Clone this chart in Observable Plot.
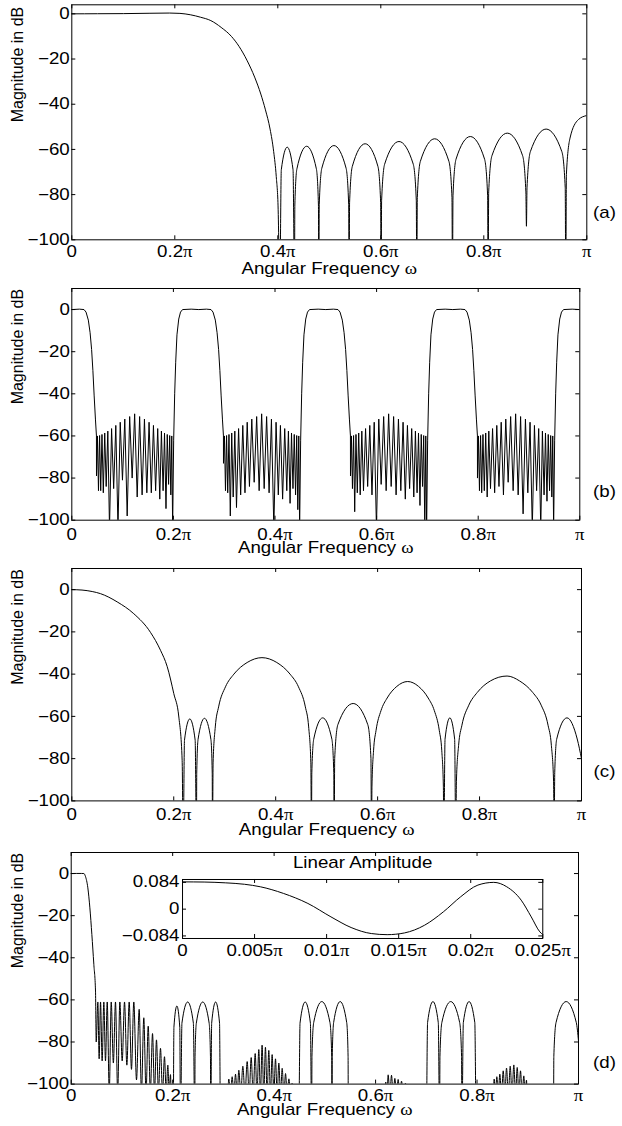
<!DOCTYPE html>
<html><head><meta charset="utf-8">
<script src="https://cdn.jsdelivr.net/npm/d3@7"></script>
<script src="https://cdn.jsdelivr.net/npm/@observablehq/plot@0.6"></script>
<style>
body{margin:0;background:#fff;}
#wrap{position:relative;width:622px;height:1126px;overflow:hidden;background:#fff;}
#wrap svg{position:absolute;}
</style></head><body><div id="wrap"></div>
<script>
// ---------- tick values and texts ----------
const xTicks = [0, 0.2, 0.4, 0.6, 0.8, 1];          // in units of pi
const yTicks = [-100, -80, -60, -40, -20, 0];       // dB
const insetXTicks = [0, 0.005, 0.01, 0.015, 0.02, 0.025];
const insetYTicks = [-0.084, 0, 0.084];
const panelTags = ["(a)", "(b)", "(c)", "(d)"];
const xLabel = "Angular Frequency ω";
const yLabel = "Magnitude in dB";
const insetTitle = "Linear Amplitude";

// ---------- panel (a): [omega/pi, dB] ----------
const aPassband = [[0,0],[0.05,0.05],[0.1,0.1],[0.15,0.25],[0.19,0.35],[0.21,0.2],[0.23,-0.4],[0.25,-1.5],[0.27,-3],[0.29,-6],[0.31,-10],[0.325,-14.5],[0.34,-20.5],[0.355,-28],[0.367,-35.5],[0.376,-42.5],[0.385,-51],[0.392,-61],[0.397,-72],[0.4005,-85],[0.4039,-120]];
const aStopband = [
[0.4068,-69],[0.4182,-59],[0.4296,-69],[0.4324,-120],
[0.4331,-84.6],[0.4371,-68.6],[0.4560,-58.6],[0.4749,-68.6],[0.4789,-84.6],[0.4796,-120],
[0.4805,-84.3],[0.4855,-68.3],[0.5090,-58.3],[0.5326,-68.3],[0.5376,-84.3],[0.5385,-120],
[0.5394,-83.5],[0.5447,-67.5],[0.5696,-57.5],[0.5944,-67.5],[0.5997,-83.5],[0.6006,-120],
[0.6016,-82.5],[0.6075,-66.5],[0.6353,-56.5],[0.6630,-66.5],[0.6689,-82.5],[0.6699,-120],
[0.6709,-81.3],[0.6768,-65.3],[0.7046,-55.3],[0.7323,-65.3],[0.7382,-81.3],[0.7392,-120],
[0.7402,-80.3],[0.7461,-64.3],[0.7738,-54.3],[0.8015,-64.3],[0.8074,-80.3],[0.8084,-120],
[0.8095,-78.8],[0.8158,-62.8],[0.8456,-52.8],[0.8754,-62.8],[0.8817,-78.8],[0.8828,-94],
[0.8839,-77],[0.8904,-61],[0.9210,-51],[0.9516,-61],[0.9581,-77],[0.9592,-120],
[0.9604,-71],[0.9674,-55],[0.9837,-46.8],[1.0,-45]];

// ---------- panel (b) ----------
const bPassShape = [[0.1985,-104],[0.2005,-62],[0.2025,-40],[0.2045,-25],[0.207,-12],[0.2105,-4.5],[0.214,-1.2],[0.218,0],[0.235,0.2],[0.25,0],[0.265,0.2],[0.274,0],[0.278,-1.2],[0.2825,-5],[0.286,-11],[0.289,-19],[0.2915,-29],[0.294,-41],[0.2965,-52],[0.2985,-60]];
const bPassShift = [-0.25, 0, 0.25, 0.5, 0.75];
const bStopShift = [0, 0.25, 0.5, 0.75];
const bRipDipX  = [0.0486,0.0525,0.0569,0.0620,0.0677,0.0742,0.0824,0.0909,0.0997,0.1090,0.1188,0.1287,0.1384,0.1477,0.1565,0.1650,0.1732,0.1797,0.1854,0.1905,0.1949];
const bRipPeakX = [0.0505,0.0547,0.0594,0.0648,0.0709,0.0783,0.0866,0.0953,0.1043,0.1139,0.1237,0.1335,0.1430,0.1521,0.1607,0.1691,0.1764,0.1825,0.1879,0.1927,0.1968];
const bRipPeakDb = [-60,-59.8,-59.3,-58.6,-57.7,-56.5,-55,-53.5,-52,-50.8,-49.5,-50.8,-52,-53.5,-55,-56.5,-57.7,-58.6,-59.3,-59.8,-60];
const bDipsSB1 = [-79,-86,-86,-87,-84,-104,-85,-104,-81,-98,-80,-89,-88,-87,-87,-86,-90,-86,-94.5,-83,-88];
const bDipsSB2 = [-73,-86,-87,-98,-89,-94,-88,-87,-84,-82,-86,-85,-87,-104,-88,-90,-86,-92,-85,-88,-95];
const bDipsSB3 = [-79,-85,-96,-87,-88,-86,-84,-88,-104,-83,-86,-84,-88,-86,-90,-85,-89,-87,-93,-84,-104];
const bDipsSB4 = [-80,-86,-87,-86,-89,-85,-87,-84,-88,-82,-86,-88,-97,-87,-104,-86,-104,-88,-91,-86,-89];

// ---------- panel (c) ----------
const cMainLobe = [[0,0],[0.02,-0.2],[0.04,-0.9],[0.0562,-1.9],[0.089,-5.8],[0.1216,-11.4],[0.1543,-20.2],[0.174,-28.7],[0.187,-36.3],[0.2001,-49.2],[0.21,-60.3],[0.2165,-80.8],[0.2185,-120]];
const cStopband = [
[0.2211,-71.2],[0.2315,-61.2],[0.2420,-71.2],[0.2446,-120],
[0.2451,-86.9],[0.2477,-70.9],[0.2603,-60.9],[0.2729,-70.9],[0.2755,-86.9],[0.2760,-120],
[0.2772,-82],[0.2815,-65],[0.288,-55.5],[0.3015,-46],[0.318,-40],[0.344,-34.5],[0.3731,-32.2],[0.4022,-34.5],[0.4282,-40],[0.4447,-46],[0.4582,-55.5],[0.4647,-65],[0.469,-82],[0.4702,-120],
[0.4709,-86.7],[0.4747,-70.7],[0.4922,-60.7],[0.5102,-70.7],[0.5140,-86.7],[0.5147,-120],
[0.5158,-79.9],[0.5220,-63.9],[0.5520,-53.9],[0.5807,-63.9],[0.5869,-79.9],[0.5880,-120],
[0.5889,-93],[0.5920,-76.3],[0.5968,-66.8],[0.6066,-57.3],[0.6187,-51.3],[0.6377,-45.8],[0.6590,-43.5],[0.6802,-45.8],[0.6992,-51.3],[0.7113,-57.3],[0.7211,-66.8],[0.7259,-76.3],[0.7290,-93],[0.7299,-120],
[0.7323,-70.7],[0.7417,-60.7],[0.7511,-70.7],[0.7534,-120],
[0.7546,-90.7],[0.7589,-73.7],[0.7654,-64.2],[0.7789,-54.7],[0.7954,-48.7],[0.8214,-43.2],[0.8540,-40.9],[0.8784,-43.2],[0.9044,-48.7],[0.9209,-54.7],[0.9344,-64.2],[0.9409,-73.7],[0.9452,-90.7],[0.9464,-120],
[0.9475,-86.7],[0.9514,-70.7],[0.9715,-60.7],[0.9916,-70.7],[1.0,-80]];

// ---------- panel (d) ----------
const dPassband = [[0,0],[0.01,0.05],[0.02,0.05],[0.025,0],[0.028,-1.3],[0.0328,-6.8],[0.0368,-16.3],[0.0407,-28.9],[0.0446,-43.1],[0.0479,-55.8],[0.0493,-80]];
const dRipple = [[0.0525,-61],[0.0551,-88],[0.0578,-61],[0.0610,-89],[0.0643,-61],[0.0676,-89],[0.0710,-61],[0.0750,-104],[0.0789,-61],[0.0831,-90],[0.0873,-61],[0.0916,-104],[0.0959,-61],[0.1005,-89],[0.1051,-61],[0.1097,-91],[0.1143,-61],[0.1188,-93],[0.1234,-61],[0.1287,-98],[0.1340,-64.5],[0.1385,-104],[0.1431,-68.5],[0.1475,-104],[0.1518,-72.5],[0.1560,-104],[0.1603,-76],[0.1642,-104],[0.1681,-79],[0.1720,-104],[0.1760,-83],[0.1800,-104],[0.1839,-87],[0.1872,-104],[0.1905,-91],[0.1931,-104],[0.1957,-95.5],[0.1985,-120]];
const dLobesLow = [[0.2010,-120],[0.2025,-72.9],[0.2083,-62.9],[0.2140,-72.9],[0.2155,-120],[0.2183,-71],[0.2296,-61],[0.2408,-71],[0.2436,-120],[0.2441,-87],[0.2467,-71],[0.2593,-61],[0.2719,-71],[0.2745,-87],[0.2750,-120],[0.2769,-71],[0.2847,-61],[0.2924,-71],[0.2943,-120]];
const dHump1 = [[0.3075,-110],[0.3107,-97.6],[0.3140,-105],[0.3173,-96.5],[0.3206,-105],[0.3239,-95.3],[0.3272,-105],[0.3304,-93.4],[0.3343,-105],[0.3383,-91.5],[0.3426,-105],[0.3469,-89.3],[0.3508,-105],[0.3548,-87.4],[0.3587,-105],[0.3627,-85.5],[0.3662,-105],[0.3698,-83.6],[0.3730,-105],[0.3763,-81.5],[0.3796,-105],[0.3829,-82.5],[0.3862,-105],[0.3895,-84],[0.3928,-105],[0.3961,-86],[0.3994,-105],[0.4027,-88],[0.4060,-105],[0.4093,-90],[0.4126,-105],[0.4159,-92.5],[0.4192,-105],[0.4225,-95],[0.4258,-105],[0.4291,-97.5],[0.4325,-105],[0.4355,-99.5],[0.4385,-120]];
const dLobesMid = [[0.4485,-120],[0.4511,-71],[0.4612,-61],[0.4715,-71],[0.4740,-120],[0.4746,-86.8],[0.4780,-70.8],[0.4940,-60.8],[0.5101,-70.8],[0.5135,-86.8],[0.5141,-120],[0.5146,-86.8],[0.5173,-70.8],[0.5302,-60.8],[0.5431,-70.8],[0.5458,-86.8],[0.5463,-120]];
const dHump2 = [[0.6170,-120],[0.6200,-99],[0.6225,-105],[0.6248,-95.6],[0.6281,-105],[0.6314,-95.8],[0.6347,-105],[0.6380,-97.3],[0.6412,-105],[0.6445,-97.8],[0.6478,-105],[0.6511,-98.6],[0.6550,-105],[0.6590,-99.5],[0.6620,-120]];
const dLobesHigh = [[0.6999,-120],[0.7025,-70.8],[0.7131,-60.8],[0.7236,-70.8],[0.7262,-120],[0.7269,-86.8],[0.7306,-70.8],[0.7482,-60.8],[0.7658,-70.8],[0.7695,-86.8],[0.7702,-120],[0.7730,-70.8],[0.7843,-60.8],[0.7956,-70.8],[0.7984,-120]];
const dHump3 = [[0.8300,-120],[0.8338,-97.6],[0.8364,-105],[0.8390,-96.5],[0.8420,-105],[0.8449,-95.3],[0.8483,-105],[0.8516,-93.7],[0.8549,-105],[0.8581,-92.4],[0.8618,-105],[0.8654,-91.5],[0.8690,-105],[0.8725,-90.9],[0.8759,-105],[0.8792,-92.1],[0.8825,-105],[0.8857,-93.7],[0.8890,-105],[0.8922,-96.1],[0.8949,-105],[0.8975,-98.1],[0.9000,-120]];
const dLobeEnd = [[0.9507,-120],[0.9514,-86.8],[0.9557,-70.8],[0.9757,-60.8],[0.9957,-70.8],[1.0,-79.5]];

// ---------- inset (d): linear amplitude ----------
const insetOmega = [0,0.0015,0.003,0.0043,0.0054,0.007,0.0087,0.0103,0.0117,0.0131,0.0142,0.0154,0.0168,0.0181,0.0193,0.0205,0.0216,0.0225,0.0235,0.0242,0.0248,0.025];
const insetAmp   = [0.0855,0.085,0.0825,0.078,0.0702,0.0494,0.0179,-0.0242,-0.0576,-0.0765,-0.0800,-0.0746,-0.0503,-0.0085,0.0387,0.0755,0.084,0.0702,0.0283,-0.0242,-0.0714,-0.080];

// ---------- build tables ----------
const bPoints = [];
bPassShift.forEach(s => bPassShape.forEach(p => { const x = +(p[0] + s).toFixed(5); if (x >= 0 && x <= 1) bPoints.push([x, p[1]]); }));
const bDips = [bDipsSB1, bDipsSB2, bDipsSB3, bDipsSB4];
bStopShift.forEach((s, k) => {
  bRipDipX.forEach((x, i) => bPoints.push([+(x + s).toFixed(5), bDips[k][i]]));
  bRipPeakX.forEach((x, i) => bPoints.push([+(x + s).toFixed(5), bRipPeakDb[i]]));
});
bPoints.sort((p, q) => p[0] - q[0]);
const insetPts = insetOmega.map((w, i) => [w, insetAmp[i]]);

// ---------- drawing ----------
const FONT = "'Liberation Sans', Arial, Helvetica, sans-serif";
const STYLE = {background: "transparent", fontSize: "16px", fontFamily: FONT, color: "black", overflow: "visible"};
const STRETCH = 1.17;   // the reference text is wider than it is tall
const piFmt = d => d === 0 ? "0" : d === 1 ? "π" : d + "π";
const numFmt = d => d < 0 ? "\u2212" + (-d) : String(d);
const wrap = document.getElementById("wrap");

function serifGreek(svg) {
  const walker = document.createTreeWalker(svg, NodeFilter.SHOW_TEXT);
  const nodes = []; while (walker.nextNode()) nodes.push(walker.currentNode);
  for (const n of nodes) {
    const s = n.nodeValue; if (!/[πω]/.test(s)) continue;
    const frag = document.createDocumentFragment();
    for (const part of s.split(/([πω])/)) {
      if (!part) continue;
      if (part === "π" || part === "ω") {
        const t = document.createElementNS("http://www.w3.org/2000/svg", "tspan");
        t.setAttribute("font-family", "'Liberation Serif', 'DejaVu Serif', serif");
        t.textContent = part; frag.appendChild(t);
      } else frag.appendChild(document.createTextNode(part));
    }
    n.parentNode.replaceChild(frag, n);
  }
}

function stretchText(svg, k) {
  svg.querySelectorAll("text").forEach(el => {
    const tr = el.getAttribute("transform") || "";
    if (/rotate/.test(tr)) return;
    const bb = el.getBBox();
    const anchor = getComputedStyle(el).textAnchor;
    const ax = anchor === "middle" ? bb.x + bb.width / 2 : anchor === "end" ? bb.x + bb.width : bb.x;
    el.setAttribute("transform", `${tr} translate(${ax},0) scale(${k},1) translate(${-ax},0)`);
  });
}

function finish(svg, left, top) {
  svg.style.left = left + "px"; svg.style.top = top + "px";
  serifGreek(svg);
  wrap.appendChild(svg);
  stretchText(svg, STRETCH);
}

function makePanel(series, cfg) {
  const {L, R, T, B, yTop, tickPad, xlabDy, tagDy, tag} = cfg;
  const mt = Math.min(T, 10), mb = 44, fw = R - L, fh = B - T, tl = 4;
  const svg = Plot.plot({
    width: 622, height: mt + fh + mb,
    marginLeft: L, marginRight: 622 - R, marginTop: mt, marginBottom: mb,
    style: STYLE,
    x: {domain: [0, 1]}, y: {domain: [-100, yTop]},
    marks: [
      ...series.map(s => Plot.line(s.pts, {x: d => d[0], y: d => d[1], curve: s.curve, stroke: "black", strokeWidth: 1, clip: true})),
      Plot.tickX(xTicks, {x: d => d, insetBottom: fh - tl, stroke: "black"}),
      Plot.tickX(xTicks, {x: d => d, insetTop: fh - tl, stroke: "black"}),
      Plot.tickY(yTicks, {y: d => d, insetRight: fw - tl, stroke: "black"}),
      Plot.tickY(yTicks, {y: d => d, insetLeft: fw - tl, stroke: "black"}),
      Plot.axisX(xTicks, {tickSize: 0, tickPadding: tickPad, tickFormat: piFmt, label: null}),
      Plot.axisY(yTicks, {tickSize: 0, tickPadding: 2, tickFormat: numFmt, label: null}),
      Plot.frame({stroke: "black"}),
      Plot.text([xLabel], {text: d => d, frameAnchor: "bottom", lineAnchor: "middle", dy: xlabDy}),
      Plot.text([yLabel], {text: d => d, frameAnchor: "left", lineAnchor: "middle", rotate: -90, dx: 17.5 - L}),
      Plot.text([tag], {text: d => d, frameAnchor: "bottom-right", lineAnchor: "middle", dx: 604 - R, dy: tagDy, textAnchor: "middle"})
    ]
  });
  finish(svg, 0, T - mt);
}

makePanel([{pts: aPassband.concat(aStopband), curve: "monotone-x"}],
  {L: 71.3, R: 586.3, T: 4.3, B: 239.3, yTop: 4, tickPad: 6, xlabDy: 29.5, tagDy: -27.3, tag: panelTags[0]});
makePanel([{pts: bPoints, curve: "linear"}],
  {L: 71.3, R: 579.3, T: 288.3, B: 520, yTop: 10, tickPad: 8.3, xlabDy: 28, tagDy: -28, tag: panelTags[1]});
makePanel([{pts: cMainLobe.concat(cStopband), curve: "monotone-x"}],
  {L: 71.3, R: 581, T: 568.3, B: 800.7, yTop: 10, tickPad: 8, xlabDy: 28.5, tagDy: -28.7, tag: panelTags[2]});
makePanel([{pts: dPassband.concat(dRipple, dLobesLow, dHump1, dLobesMid, dHump2, dLobesHigh, dHump3, dLobeEnd), curve: "monotone-x"}],
  {L: 70.7, R: 578, T: 851.7, B: 1083.3, yTop: 10, tickPad: 6, xlabDy: 25.5, tagDy: -21.3, tag: panelTags[3]});

// inset
(function () {
  const L = 181.7, R = 542, T = 879.3, B = 938.3, ml = 60, mr = 40, mt = 30, mb = 25;
  const fw = R - L, fh = B - T, tl = 4;
  const svg = Plot.plot({
    width: ml + fw + mr, height: mt + fh + mb,
    marginLeft: ml, marginRight: mr, marginTop: mt, marginBottom: mb,
    style: STYLE,
    x: {domain: [0, 0.025]}, y: {domain: [-0.092, 0.093]},
    marks: [
      Plot.frame({fill: "white", stroke: "none"}),
      Plot.line(insetPts, {x: d => d[0], y: d => d[1], curve: "monotone-x", stroke: "black", strokeWidth: 1, clip: true}),
      Plot.tickX(insetXTicks, {x: d => d, insetBottom: fh - tl, stroke: "black"}),
      Plot.tickX(insetXTicks, {x: d => d, insetTop: fh - tl, stroke: "black"}),
      Plot.tickY(insetYTicks, {y: d => d, insetRight: fw - tl, stroke: "black"}),
      Plot.tickY(insetYTicks, {y: d => d, insetLeft: fw - tl, stroke: "black"}),
      Plot.axisX(insetXTicks, {tickSize: 0, tickPadding: 6, tickFormat: piFmt, label: null}),
      Plot.axisY(insetYTicks, {tickSize: 0, tickPadding: 3, tickFormat: numFmt, label: null}),
      Plot.frame({stroke: "black"}),
      Plot.text([insetTitle], {text: d => d, frameAnchor: "top", lineAnchor: "middle", dy: -16.6})
    ]
  });
  finish(svg, L - ml, T - mt);
})();
</script></body></html>
